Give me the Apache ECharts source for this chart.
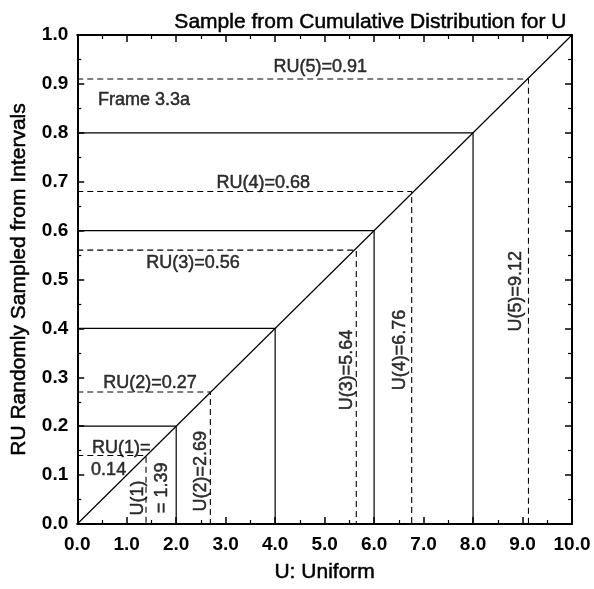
<!DOCTYPE html>
<html>
<head>
<meta charset="utf-8">
<script src="https://cdn.jsdelivr.net/npm/echarts@6/dist/echarts.min.js"></script>
<style>html,body{margin:0;padding:0;background:#fff}#c{width:594px;height:589px}</style>
</head>
<body>
<div id="c"></div>
<script>
// Data
const stepU = [2, 4, 6, 8];
const stepRU = [0.2, 0.4, 0.6, 0.8];
const sampleU = [1.39, 2.69, 5.64, 6.76, 9.12];
const sampleRU = [0.14, 0.27, 0.56, 0.68, 0.91];
const diagonal = [[0, 0], [10, 1]];
const xTicks = [0, 1, 2, 3, 4, 5, 6, 7, 8, 9, 10];
const yTicks = [0, 0.1, 0.2, 0.3, 0.4, 0.5, 0.6, 0.7, 0.8, 0.9, 1.0];

// Annotation texts and their anchor positions (data units)
const annotations = [
  { text: 'RU(5)=0.91', at: [4.91, 0.935], rot: 0 },
  { text: 'RU(4)=0.68', at: [3.76, 0.697], rot: 0 },
  { text: 'RU(3)=0.56', at: [2.34, 0.534], rot: 0 },
  { text: 'RU(2)=0.27', at: [1.47, 0.288], rot: 0 },
  { text: 'RU(1)=', at: [0.89, 0.155], rot: 0 },
  { text: '0.14', at: [0.28, 0.110], rot: 0, align: 'left' },
  { text: 'U(1)', at: [1.22, 0.053], rot: 90 },
  { text: '= 1.39', at: [1.72, 0.074], rot: 90 },
  { text: 'U(2)=2.69', at: [2.50, 0.108], rot: 90 },
  { text: 'U(3)=5.64', at: [5.45, 0.315], rot: 90 },
  { text: 'U(4)=6.76', at: [6.53, 0.356], rot: 90 },
  { text: 'U(5)=9.12', at: [8.87, 0.476], rot: 90 },
  { text: 'Frame 3.3a', at: [0.42, 0.867], rot: 0, align: 'left' }
];

const FONT = '"Liberation Sans", Arial, Helvetica, sans-serif';
const series = [];

series.push({
  type: 'line', data: diagonal, symbol: 'none', silent: true,
  lineStyle: { color: '#000', width: 1.2 }
});
stepU.forEach((u, i) => {
  const r = stepRU[i];
  series.push({
    type: 'line', data: [[0, r], [u, r], [u, 0]], symbol: 'none', silent: true,
    lineStyle: { color: '#000', width: 1.2 }
  });
});
sampleU.forEach((u, i) => {
  const r = sampleRU[i];
  series.push({
    type: 'line', data: [[0, r], [u, r], [u, 0]], symbol: 'none', silent: true,
    lineStyle: { color: '#000', width: 1.1, type: [6, 4] }
  });
});
series.push({
  type: 'scatter', symbolSize: 1, silent: true,
  itemStyle: { color: 'rgba(0,0,0,0)' },
  data: annotations.map(a => ({
    value: a.at,
    label: {
      show: true, position: 'inside', formatter: a.text, rotate: a.rot,
      align: a.align || 'center', verticalAlign: 'middle',
      color: '#000', fontSize: 18, fontFamily: FONT,
      textBorderColor: '#000', textBorderWidth: 0.5
    }
  }))
});

const baseAxis = {
  type: 'value',
  axisLine: { show: true, onZero: false, lineStyle: { color: '#000', width: 2 } },
  axisTick: { show: true, inside: true, length: 7, lineStyle: { color: '#000', width: 1.5 } },
  minorTick: { show: true, splitNumber: 2, length: 4, lineStyle: { color: '#000', width: 1.2 } },
  splitLine: { show: false }
};

const nameStyle = { color: '#000', fontSize: 21, fontFamily: FONT, textBorderColor: '#000', textBorderWidth: 0.5 };
const tickStyle = { color: '#000', fontSize: 19, fontWeight: 'bold', fontFamily: FONT };

const option = {
  backgroundColor: '#fff',
  animation: false,
  title: {
    text: 'Sample from Cumulative Distribution for U',
    right: 22, top: 7,
    textStyle: Object.assign({ fontWeight: 'normal' }, nameStyle)
  },
  grid: { left: 77, right: 22, top: 35, bottom: 65 },
  xAxis: [
    Object.assign({}, baseAxis, {
      min: xTicks[0], max: xTicks[xTicks.length - 1], interval: 1, position: 'bottom',
      name: 'U: Uniform', nameLocation: 'middle', nameGap: 38,
      nameTextStyle: nameStyle,
      axisLabel: Object.assign({ margin: 11, formatter: v => v.toFixed(1) }, tickStyle)
    }),
    Object.assign({}, baseAxis, {
      min: xTicks[0], max: xTicks[xTicks.length - 1], interval: 1, position: 'top',
      axisLabel: { show: false }
    })
  ],
  yAxis: [
    Object.assign({}, baseAxis, {
      min: yTicks[0], max: yTicks[yTicks.length - 1], interval: 0.1, position: 'left',
      name: 'RU Randomly Sampled from Intervals', nameLocation: 'middle', nameGap: 48,
      nameTextStyle: nameStyle,
      axisLabel: Object.assign({ margin: 9, formatter: v => v.toFixed(1) }, tickStyle)
    }),
    Object.assign({}, baseAxis, {
      min: yTicks[0], max: yTicks[yTicks.length - 1], interval: 0.1, position: 'right',
      axisLabel: { show: false }
    })
  ],
  series: series
};

const chart = echarts.init(document.getElementById('c'), null, { renderer: 'canvas' });
chart.setOption(option);
</script>
</body>
</html>
